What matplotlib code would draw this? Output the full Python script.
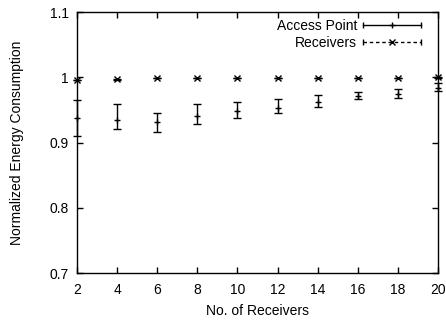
import matplotlib.pyplot as plt
from matplotlib.lines import Line2D
from matplotlib.legend_handler import HandlerLine2D

plt.rcParams['font.family'] = ['Liberation Sans', 'DejaVu Sans']

receivers = [2, 4, 6, 8, 10, 12, 14, 16, 18, 20]

# access point: mean with lower / upper error bar ends
ap_mean = [0.937, 0.935, 0.931, 0.940, 0.949, 0.953, 0.962, 0.971, 0.975, 0.983]
ap_low = [0.910, 0.921, 0.916, 0.928, 0.938, 0.946, 0.954, 0.967, 0.969, 0.979]
ap_high = [0.965, 0.959, 0.946, 0.959, 0.962, 0.966, 0.973, 0.978, 0.982, 0.991]

rx_mean = [0.996, 0.997, 0.999, 0.999, 0.999, 0.999, 0.999, 0.999, 0.999, 1.000]

fig = plt.figure(figsize=(4.46, 3.21), dpi=100)
ax = fig.add_axes([0.1726, 0.1495, 0.8094, 0.813])

yerr = [[m - lo for m, lo in zip(ap_mean, ap_low)],
        [hi - m for m, hi in zip(ap_mean, ap_high)]]
ax.errorbar(receivers, ap_mean, yerr=yerr, fmt='+', color='black',
            ms=5, mew=1, elinewidth=1, capsize=3, capthick=1, clip_on=False)
rx = ax.errorbar(receivers, rx_mean, yerr=0.0005, fmt='x', color='black',
                 ms=4.5, mew=1, elinewidth=1, capsize=3, capthick=1,
                 clip_on=False)
rx[-1][0].set_linestyle('--')

ax.set_xlim(2, 20)
ax.set_ylim(0.7, 1.1)
ax.set_xticks(receivers)
ax.set_yticks([0.7, 0.8, 0.9, 1.0, 1.1])
ax.set_yticklabels(['0.7', '0.8', '0.9', '1', '1.1'])
ax.tick_params(direction='in', top=True, right=True, length=4, width=1,
               labelsize=10)
ax.tick_params(axis='y', pad=6)
ax.tick_params(axis='x', pad=7)
for s in ax.spines.values():
    s.set_linewidth(1)

ax.set_xlabel('No. of Receivers', fontsize=10, labelpad=5)
ax.set_ylabel('Normalized Energy Consumption', fontsize=10, labelpad=18)

# gnuplot style legend keys: horizontal bar with end caps and the point marker
ap_bar = Line2D([], [], color='black', lw=1, marker='|', ms=5, mew=1)
ap_pt = Line2D([], [], color='black', ls='none', marker='+', ms=5, mew=1)
rx_bar = Line2D([], [], color='black', lw=1, ls=(0, (2.5, 2)), marker='|', ms=5, mew=1)
rx_pt = Line2D([], [], color='black', ls='none', marker='x', ms=4.5, mew=1)

leg = ax.legend([(ap_bar, ap_pt), (rx_bar, rx_pt)], ['Access Point', 'Receivers'],
                handler_map={ap_bar: HandlerLine2D(numpoints=2, marker_pad=0),
                             rx_bar: HandlerLine2D(numpoints=2, marker_pad=0),
                             ap_pt: HandlerLine2D(numpoints=1),
                             rx_pt: HandlerLine2D(numpoints=1)},
                loc='upper right', bbox_to_anchor=(0.972, 1.0),
                markerfirst=False, frameon=False,
                fontsize=10, handlelength=4.2, handletextpad=0.4,
                labelspacing=0.2, borderaxespad=0.2, borderpad=0.3)

fig.savefig('out.png', dpi=100)
